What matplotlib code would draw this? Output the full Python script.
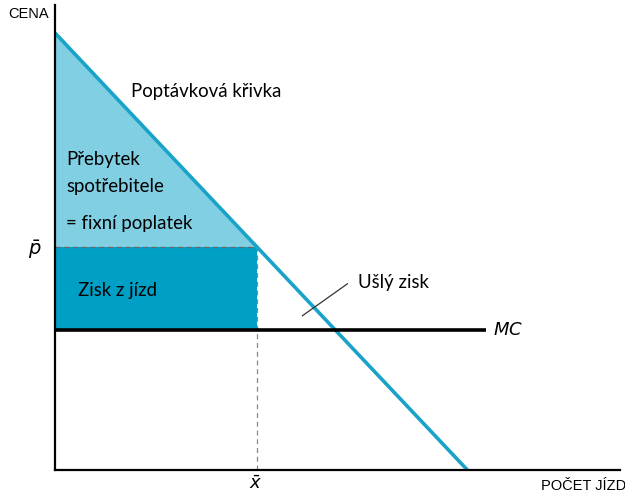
import matplotlib.pyplot as plt
import numpy as np

# demand curve P = a - b*Q, marginal cost and chosen quantity
demand_a = 100.0
demand_q_max = 100.0
mc = 32.0
x_bar = 49.0
q_mc_end = 104.4
x_max, y_max = 137.0, 106.4

p_bar = demand_a * (1 - x_bar / demand_q_max)

light = '#80CFE2'
dark = '#009FC6'
line_c = '#1AA3C8'

fig = plt.figure(figsize=(6.25, 4.92), dpi=100)
ax = fig.add_axes([55/625, 22/492, 565/625, 465/492])
ax.set_xlim(0, x_max)
ax.set_ylim(0, y_max)

# consumer surplus triangle
q = np.linspace(0, x_bar, 50)
ax.fill_between(q, p_bar, demand_a * (1 - q / demand_q_max), color=light, lw=0)
# profit rectangle
ax.fill_between([0, x_bar], mc, p_bar, color=dark, lw=0)

# dashed guides
ax.plot([0, x_bar], [p_bar, p_bar], ls=(0, (4, 3)), color='#666666', lw=0.9)
ax.plot([x_bar, x_bar], [0, p_bar], ls=(0, (4, 3)), color='#888888', lw=0.9)

# demand and MC
qd = np.array([0, demand_q_max])
ax.plot(qd, demand_a * (1 - qd / demand_q_max), color=line_c, lw=2.6, solid_capstyle='butt')
ax.plot([0, q_mc_end], [mc, mc], color='black', lw=2.6, solid_capstyle='butt')

ax.spines[['top', 'right']].set_visible(False)
ax.spines[['left', 'bottom']].set_linewidth(1.6)
ax.set_xticks([])
ax.set_yticks([])

fs = 13.4
fam = 'Lato'
ax.text(18.5, 86.5, 'Poptávková křivka', fontsize=fs, family=fam, va='center')
ax.text(2.7, 71.0, 'Přebytek', fontsize=fs, family=fam, va='center')
ax.text(2.7, 64.8, 'spotřebitele', fontsize=fs, family=fam, va='center')
ax.text(2.7, 56.4, '= fixní poplatek', fontsize=fs, family=fam, va='center')
ax.text(5.6, 41.0, 'Zisk z jízd', fontsize=fs, family=fam, va='center')
ax.text(73.5, 43.0, 'Ušlý zisk', fontsize=fs, family=fam, va='center')
ax.plot([60.0, 70.9], [35.3, 42.6], color='#333333', lw=0.9)
ax.text(106.3, mc, '$MC$', fontsize=13, va='center')

fig.text(8/625, 1 - 14/492, 'CENA', fontsize=10.5, family='Liberation Sans', va='center')
fig.text(541/625, 1 - 486/492, 'POČET JÍZD', fontsize=10.5, family='Liberation Sans', va='center')
fig.text(35/625, 1 - 250/492, r'$\bar{p}$', fontsize=14, va='center', ha='center')
fig.text(256/625, 1 - 484/492, r'$\bar{x}$', fontsize=13, va='center', ha='center')

fig.savefig('out.png', dpi=100)
